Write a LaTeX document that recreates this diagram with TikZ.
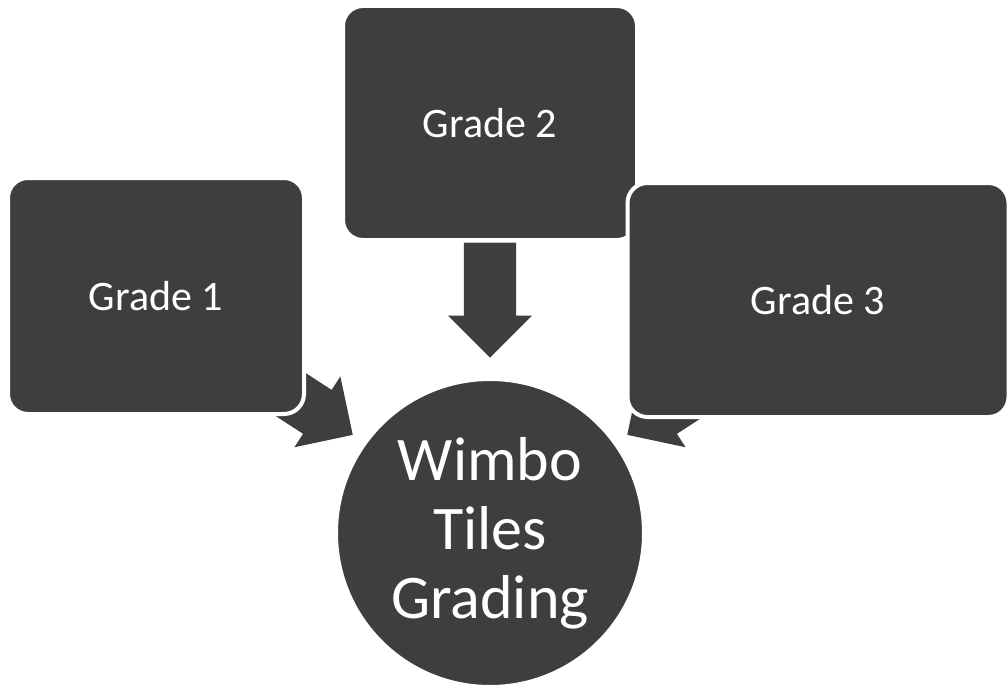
\documentclass[tikz,border=0pt]{standalone}
\usepackage{fontspec}
\setmainfont{Carlito}
\usetikzlibrary{shapes.arrows, positioning, calc, backgrounds}
\definecolor{cTile}{RGB}{62,62,62}
\tikzset{
	gradebox/.style={rectangle, rounded corners=20pt, draw=white, line width=4pt, fill=cTile, text=white, font=\fontsize{42}{50}\selectfont},
	hub/.style     ={circle, draw=white, line width=4pt, fill=cTile, text=white, align=center, minimum size=308pt, inner sep=0pt, font=\fontsize{62}{69}\selectfont},
	bigarrow/.style={single arrow, fill=cTile, draw=none, anchor=tip, minimum height=115pt, inner xsep=0pt, inner ysep=26pt, single arrow head extend=16pt},
}

\begin{document}
\begin{tikzpicture}[x=1pt, y=-1pt]
	\useasboundingbox (0,0) rectangle (1008,687);
	\node[gradebox, minimum width=296pt, minimum height=236pt] (g1) at (156,296) {Grade 1};
	\node[gradebox, minimum width=294pt, minimum height=234pt] (g2) at (490,123) {Grade 2};
	\node[gradebox, minimum width=381pt, minimum height=234pt] (g3) at (818,300) {Grade 3};
	\node[hub] (hub) at (490,533) {Wimbo\\Tiles\\Grading};
	% arrows sit behind the boxes
	\begin{scope}[on background layer]
		\node[bigarrow, rotate=-90] (a2) at ($(hub.north)+(0,-19)$) {};
		\node[bigarrow, rotate=-33] (a1) at ($(hub.center)+(-137,-98)$) {};
		\node[bigarrow, rotate=-147] (a3) at ($(hub.center)+(137,-98)$) {};
	\end{scope}
\end{tikzpicture}
\end{document}
